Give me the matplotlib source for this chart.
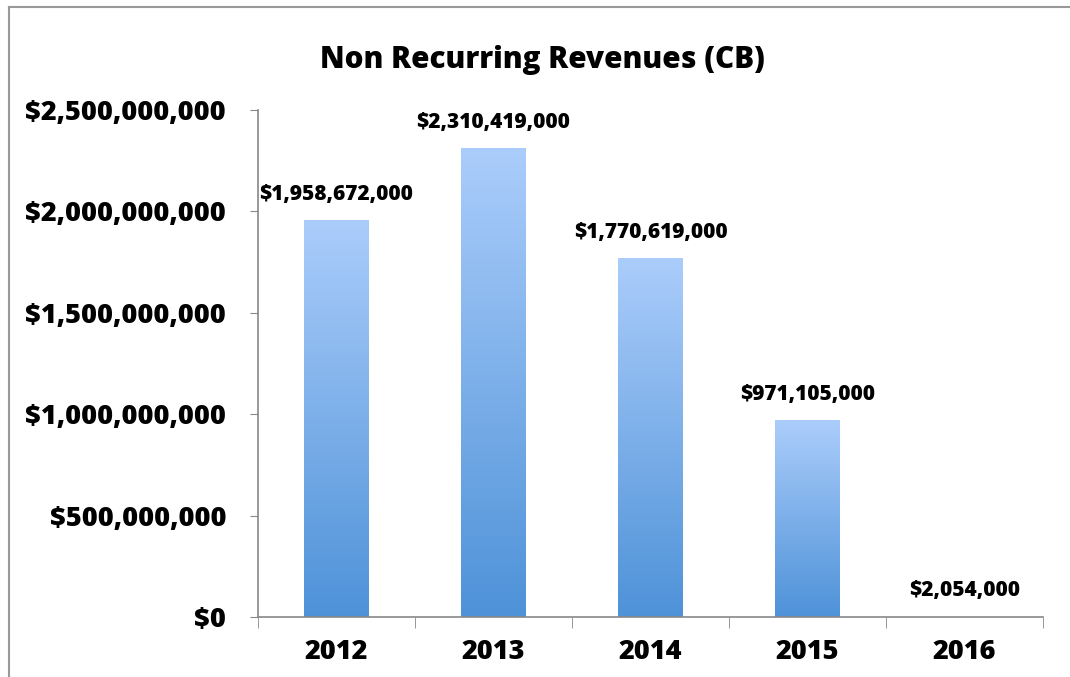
import matplotlib
matplotlib.use("Agg")
import matplotlib.pyplot as plt
import numpy as np
from matplotlib.colors import LinearSegmentedColormap
from matplotlib.ticker import FuncFormatter, MultipleLocator
from matplotlib.lines import Line2D

years = ["2012", "2013", "2014", "2015", "2016"]
revenues = [1958672000, 2310419000, 1770619000, 971105000, 2054000]
title = "Non Recurring Revenues (CB)"

plt.rcParams['font.family'] = ['Open Sans', 'DejaVu Sans']

fig = plt.figure(figsize=(10.70, 6.77), dpi=100)
ax = fig.add_axes([258/1070, 1-617/677, (1043-258)/1070, (617-110)/677])

x = np.arange(len(years))
bars = ax.bar(x, revenues, width=0.41, color='none', edgecolor='none', zorder=2)

cmap = LinearSegmentedColormap.from_list('g', ['#4E92D8', '#ABCDFB'])
grad = np.linspace(0, 1, 256).reshape(-1, 1)
for b in bars:
    x0, w, h = b.get_x(), b.get_width(), b.get_height()
    im = ax.imshow(grad, cmap=cmap, aspect='auto', origin='lower',
                   extent=[x0, x0 + w, 0, h], zorder=2, interpolation='bilinear')
    im.set_clip_path(b)

W = 800
for xi, v in zip(x, revenues):
    ax.annotate(f"${v:,.0f}", (xi, v), xytext=(0, 11), textcoords='offset points',
                ha='center', va='bottom', fontsize=15, fontweight=W)

ax.set_xlim(-0.5, len(years) - 0.5)
ax.set_ylim(0, 2500000000)
ax.yaxis.set_major_locator(MultipleLocator(500000000))
ax.yaxis.set_major_formatter(FuncFormatter(lambda v, p: f"${v:,.0f}"))
ax.set_xticks(x)
ax.set_xticklabels(years)
ax.set_xticks(np.arange(-0.5, len(years)), minor=True)
ax.tick_params(axis='x', which='major', length=0, pad=16, labelsize=19.5)
ax.tick_params(axis='x', which='minor', length=8, color='#888888', direction='out')
ax.tick_params(axis='y', length=6, color='#888888', pad=17, labelsize=19.5)
for lab in ax.get_xticklabels() + ax.get_yticklabels():
    lab.set_fontweight(W)

for s in ['top', 'right']:
    ax.spines[s].set_visible(False)
for s in ['left', 'bottom']:
    ax.spines[s].set_color('#888888')
    ax.spines[s].set_linewidth(1.2)

fig.text(542/1070, 1-60/677, title, ha='center', va='center', fontsize=21.3, fontweight=W)

fig.add_artist(Line2D([9/1070, 9/1070], [0, 1-7/677], transform=fig.transFigure, color='#999999', lw=1.5))
fig.add_artist(Line2D([9/1070, 1], [1-7/677, 1-7/677], transform=fig.transFigure, color='#999999', lw=1.5))

fig.savefig("out.png", dpi=100)
